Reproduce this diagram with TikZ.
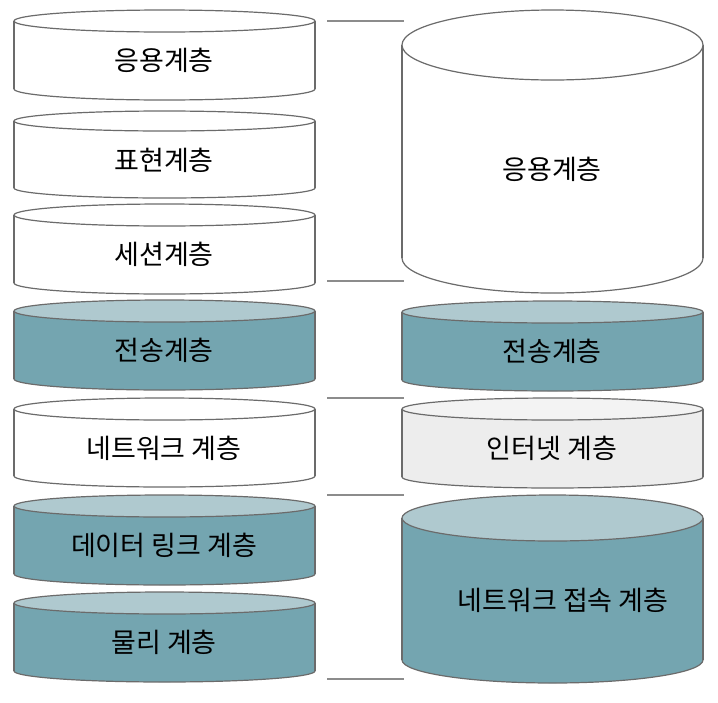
\documentclass[tikz,border=0pt]{standalone}
\usepackage{fontspec}
\newfontfamily\krfont{Noto Sans CJK KR}
\definecolor{tealside}{HTML}{74A5B0}
\definecolor{tealtop}{HTML}{AFC9CF}
\definecolor{greyside}{HTML}{EDEDED}
\definecolor{greytop}{HTML}{F3F3F3}
\definecolor{outline}{HTML}{6B6B6B}
\definecolor{sepcol}{HTML}{8C8C8C}
\tikzset{
  cyledge/.style={draw=outline, line width=1.2pt},
  lbl/.style={font=\krfont\fontsize{27}{30}\selectfont, inner sep=0pt, text=black},
  sepline/.style={draw=sepcol, line width=2pt},
}
% #1 xl, #2 xr, #3 y top centre, #4 y bottom centre, #5 ry, #6 side colour, #7 top colour
\newcommand\mycyl[7]{%
  \pgfmathsetmacro\cxx{(#1+#2)/2}%
  \pgfmathsetmacro\rxx{(#2-#1)/2}%
  \fill[#6] (#1,#3) rectangle (#2,#4);
  \fill[#6] (\cxx,#4) ellipse[x radius=\rxx, y radius=#5];
  \begin{scope}
    \clip (#1-3,#4) rectangle (#2+3,#4+#5+3);
    \draw[cyledge] (\cxx,#4) ellipse[x radius=\rxx, y radius=#5];
  \end{scope}
  \draw[cyledge] (#1,#3) -- (#1,#4);
  \draw[cyledge] (#2,#3) -- (#2,#4);
  \fill[#7] (\cxx,#3) ellipse[x radius=\rxx, y radius=#5];
  \draw[cyledge] (\cxx,#3) ellipse[x radius=\rxx, y radius=#5];
}
\begin{document}
\begin{tikzpicture}[x=1pt,y=-1pt]
\useasboundingbox (0,0) rectangle (718,702);
% left column
\mycyl{14}{315}{21}{89}{11}{white}{white}
\mycyl{14}{315}{121}{188}{10}{white}{white}
\mycyl{14}{315}{215}{283}{11}{white}{white}
\mycyl{14}{315}{311}{379}{11}{tealside}{tealtop}
\mycyl{14}{315}{409}{476}{11}{white}{white}
\mycyl{14}{315}{506}{574}{11}{tealside}{tealtop}
\mycyl{14}{315}{603}{671}{11}{tealside}{tealtop}
\node[lbl] (app) at (164,60) {응용계층};
\node[lbl] (pres) at (164,160) {표현계층};
\node[lbl] (sess) at (164,254) {세션계층};
\node[lbl] (trans) at (164,350) {전송계층};
\node[lbl] (net) at (164,448) {네트워크 계층};
\node[lbl] (dlink) at (164,545) {데이터 링크 계층};
\node[lbl] (phys) at (164,642) {물리 계층};
% right column
\mycyl{402}{703}{45}{258}{35}{white}{white}
\mycyl{402}{703}{312}{380}{11}{tealside}{tealtop}
\mycyl{402}{703}{409}{477}{11}{greyside}{greytop}
\mycyl{402}{703}{518}{660}{23}{tealside}{tealtop}
\node[lbl] (rapp) at (552,169) {응용계층};
\node[lbl] (rtrans) at (552,351) {전송계층};
\node[lbl] (rinet) at (552,448) {인터넷 계층};
\node[lbl] (racc) at (563,600) {네트워크 접속 계층};
% separators
\coordinate (s1a) at (327,21);  \coordinate (s1b) at (404,21);
\coordinate (s2a) at (327,281); \coordinate (s2b) at (404,281);
\coordinate (s3a) at (327,398); \coordinate (s3b) at (404,398);
\coordinate (s4a) at (327,495); \coordinate (s4b) at (404,495);
\coordinate (s5a) at (327,679); \coordinate (s5b) at (404,679);
\draw[sepline] (s1a) -- (s1b);
\draw[sepline] (s2a) -- (s2b);
\draw[sepline] (s3a) -- (s3b);
\draw[sepline] (s4a) -- (s4b);
\draw[sepline] (s5a) -- (s5b);
\end{tikzpicture}
\end{document}
